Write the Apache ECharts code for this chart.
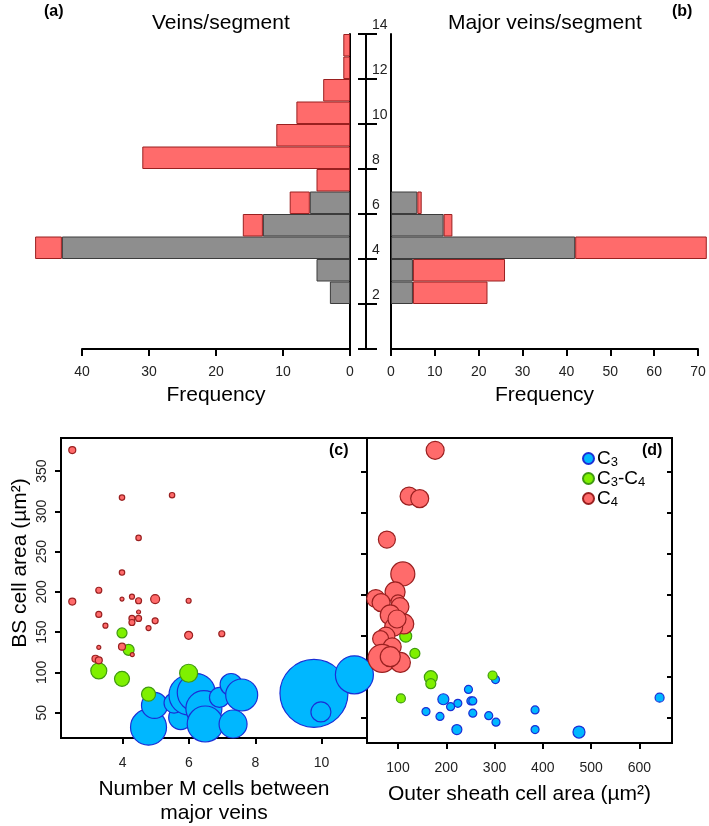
<!DOCTYPE html>
<html>
<head>
<meta charset="utf-8">
<script src="https://cdn.jsdelivr.net/npm/echarts@6/dist/echarts.min.js"></script>
<style>html,body{margin:0;padding:0;background:#fff}#c{width:709px;height:826px}</style>
</head>
<body>
<div id="c"></div>
<script>
// ---------- DATA ----------
// histogram bins (lower edge of each 1-unit bin)
const bins = ['0','1','2','3','4','5','6','7','8','9','10','11','12','13'];
// (a) Veins/segment frequencies
const veinsGray = [0,0,3,5,43,13,6,0,0,0,0,0,0,0];
const veinsRed  = [0,0,0,0,4,3,3,5,31,11,8,4,1,1];
// (b) Major veins/segment frequencies
const majorGray = [0,0,5,5,42,12,6,0,0,0,0,0,0,0];
const majorRed  = [0,0,17,21,30,2,1,0,0,0,0,0,0,0];
// tick values
const bsTicks = [50,100,150,200,250,300,350];
const mTicks = [4,6,8,10];
const osTicks = [100,200,300,400,500,600];

// (c) [number M cells, BS cell area, bubble weight]
const cC3 = [[4.78,32,18],[4.96,59,13],[5.75,44,12],[5.55,62,10],[6.0,72,20],[6.22,75,19],
  [6.45,55,18],[6.49,36,18],[6.92,69,10],[7.27,85,11],[7.59,72,16],[7.33,36,14],
  [9.77,74,34],[9.98,51,10],[10.99,97,19]];
const cC3C4 = [[3.98,149,5],[4.18,128,5.5],[3.28,102,8],[3.98,92,7.5],[5.99,99,9],[4.78,73,7]];
const cC4 = [[2.48,376,3.5],[3.98,317,2.7],[5.49,320,2.7],[4.48,267,2.7],[3.98,224,2.7],
  [3.28,202,3],[2.48,188,3.5],[3.98,191,2],[4.28,194,2.5],[4.48,189,3],[4.98,191,4.5],
  [5.99,189,2.5],[3.28,172,3],[4.48,175,2],[3.48,158,2.5],[4.28,167,3],[4.28,162,3],
  [4.48,167,3],[4.98,164,3],[4.78,155,2.5],[5.99,146,4],[6.99,148,3],[3.28,131,2],
  [3.98,132,3.5],[3.18,117,3.5],[3.28,115,3.5],[4.29,122,2]];
// (d) [outer sheath cell area, BS cell area, bubble weight]
const dC3 = [[246,84,4],[194,72,5.5],[224,67,4],[209,63,4],[251,70,4],[255,70,4],[158,57,4],
  [187,51,4],[255,55,4],[288,52,4],[303,44,4],[222,35,5],[302,96,4],[384,59,4],[384,35,4],
  [475,32,6],[642,74,4.5]];
const dC3C4 = [[116,149,6],[135,128,5],[168,99,6.5],[168,91,5],[296,101,4.5],[106,73,4.5]];
const dC4 = [[177,376,9],[123,320,9],[145,317,9],[77,267,8.5],[110,225,12],[94,203,10],
  [54,195,9],[65,190,9],[100,191,7],[104,185,9],[84,175,10],[112,164,10],[91,160,9],
  [75,149,9],[64,146,8],[88,136,9],[98,170,9],[67,122,14],[105,117,10],[84,124,10]];

const groupNames = ['C3','C3-C4','C4'];

// ---------- STYLE ----------
const FONT = '"Liberation Sans", Arial, sans-serif';
const RED = '#FF6B6B', RED_B = '#9a2020';
const GRAY = '#8E8E8E', GRAY_B = '#3c3c3c';
const BLUE = '#00B7FF', BLUE_B = '#1a2fd6';
const GREEN = '#7FF000', GREEN_B = '#3f9a10';
const lineS = {color:'#000', width:2};
const nz = a => a.map(v => v === 0 ? '-' : v);
const sz = d => d[2] * 2;

const chart = echarts.init(document.getElementById('c'));

const option = {
  animation:false,
  textStyle:{fontFamily:FONT},
  grid:[
    {left:82, top:34, width:268, height:315},   // (a)
    {left:391, top:34, width:307, height:315},  // (b)
    {left:366, top:34, width:1, height:315},    // central axis
    {left:61, top:438, width:306, height:305, show:true, borderColor:'#000', borderWidth:2}, // (c)
    {left:367, top:438, width:305, height:305, show:true, borderColor:'#000', borderWidth:2}  // (d)
  ],
  xAxis:[
    {gridIndex:0, type:'value', inverse:true, min:0, max:40, interval:10, position:'bottom',
     axisLine:{show:true, lineStyle:lineS}, axisTick:{show:true, length:7, lineStyle:lineS},
     axisLabel:{fontSize:14, color:'#222', margin:16}, splitLine:{show:false},
     name:'Frequency', nameLocation:'middle', nameGap:36, nameTextStyle:{fontSize:21, color:'#000'}},
    {gridIndex:1, type:'value', min:0, max:70, interval:10, position:'bottom',
     axisLine:{show:true, lineStyle:lineS}, axisTick:{show:true, length:7, lineStyle:lineS},
     axisLabel:{fontSize:14, color:'#222', margin:16}, splitLine:{show:false},
     name:'Frequency', nameLocation:'middle', nameGap:36, nameTextStyle:{fontSize:21, color:'#000'}},
    {gridIndex:2, type:'value', show:false, min:0, max:1},
    {gridIndex:3, type:'value', min:2.14, max:11.37,
     axisLine:{show:true, lineStyle:lineS},
     axisTick:{show:true, length:6, lineStyle:lineS, customValues:mTicks},
     axisLabel:{fontSize:14, color:'#222', margin:18, customValues:mTicks},
     splitLine:{show:false},
     name:'Number M cells between\nmajor veins', nameLocation:'middle', nameGap:39,
     nameTextStyle:{fontSize:21, color:'#000', lineHeight:24}},
    {gridIndex:4, type:'value', min:35.8, max:667.7,
     axisLine:{show:true, lineStyle:lineS},
     axisTick:{show:true, length:6, lineStyle:lineS, customValues:osTicks},
     axisLabel:{fontSize:14, color:'#222', margin:18, customValues:osTicks},
     splitLine:{show:false},
     name:'Outer sheath cell area (µm²)', nameLocation:'middle', nameGap:41,
     nameTextStyle:{fontSize:21, color:'#000'}}
  ],
  yAxis:[
    {gridIndex:0, type:'category', data:bins, position:'right', boundaryGap:true,
     axisLine:{show:true, lineStyle:lineS}, axisTick:{show:false}, axisLabel:{show:false}},
    {gridIndex:1, type:'category', data:bins, position:'left', boundaryGap:true,
     axisLine:{show:true, lineStyle:lineS}, axisTick:{show:false}, axisLabel:{show:false}},
    {gridIndex:2, type:'value', min:0, max:14, interval:2, position:'left',
     axisLine:{show:true, lineStyle:lineS}, axisTick:{show:true, inside:false, length:8, lineStyle:lineS},
     axisLabel:{show:false}, splitLine:{show:false}},
    {gridIndex:2, type:'value', min:0, max:14, interval:2, position:'left',
     axisLine:{show:false}, axisTick:{show:true, inside:true, length:11, lineStyle:lineS},
     axisLabel:{show:true, inside:true, margin:6, fontSize:14, color:'#222', verticalAlign:'bottom',
       padding:[0,0,2,0], formatter:v => (v === 0 ? '' : String(v))},
     splitLine:{show:false}},
    {gridIndex:3, type:'value', min:18.6, max:391,
     axisLine:{show:true, lineStyle:lineS},
     axisTick:{show:true, length:6, lineStyle:lineS, customValues:bsTicks},
     axisLabel:{fontSize:14, color:'#222', rotate:90, margin:12, customValues:bsTicks},
     splitLine:{show:false},
     name:'BS cell area (µm²)', nameLocation:'middle', nameGap:30, nameRotate:90,
     nameTextStyle:{fontSize:21, color:'#000', padding:[0,0,0,50]}},
    {gridIndex:4, type:'value', min:18.6, max:391,
     axisLine:{show:true, lineStyle:lineS},
     axisTick:{show:true, length:6, lineStyle:lineS, customValues:bsTicks},
     axisLabel:{show:false}, splitLine:{show:false}},
    {gridIndex:4, type:'value', min:18.6, max:391,
     axisLine:{show:false},
     axisTick:{show:true, inside:true, length:5, lineStyle:lineS, customValues:bsTicks},
     axisLabel:{show:false}, splitLine:{show:false}}
  ],
  legend:{
    data:groupNames, orient:'vertical', left:577, top:444, icon:'circle',
    itemWidth:11, itemHeight:11, itemGap:0,
    formatter:n => ({'C3':'{n|C}{s|3}','C3-C4':'{n|C}{s|3}{n|-C}{s|4}','C4':'{n|C}{s|4}'}[n]),
    textStyle:{color:'#000', padding:[0,0,0,-2], rich:{
      n:{fontSize:19, lineHeight:21, verticalAlign:'middle', fontFamily:FONT, color:'#000'},
      s:{fontSize:13, lineHeight:12, verticalAlign:'bottom', fontFamily:FONT, color:'#000'}}}
  },
  graphic:[
    {type:'text', left:44, top:4, style:{text:'(a)', font:'bold 16px '+FONT, fill:'#000'}},
    {type:'text', left:672, top:4, style:{text:'(b)', font:'bold 16px '+FONT, fill:'#000'}},
    {type:'text', left:152, top:13, style:{text:'Veins/segment', font:'21px '+FONT, fill:'#000'}},
    {type:'text', left:448, top:13, style:{text:'Major veins/segment', font:'21px '+FONT, fill:'#000'}},
    {type:'text', left:329, top:443, style:{text:'(c)', font:'bold 16px '+FONT, fill:'#000'}},
    {type:'text', left:642, top:443, style:{text:'(d)', font:'bold 16px '+FONT, fill:'#000'}}
  ],
  series:[
    {type:'bar', xAxisIndex:0, yAxisIndex:0, stack:'a', data:nz(veinsGray), barWidth:'100%', clip:false,
     itemStyle:{color:GRAY, borderColor:GRAY_B, borderWidth:1}},
    {type:'bar', xAxisIndex:0, yAxisIndex:0, stack:'a', data:nz(veinsRed), barWidth:'100%', clip:false,
     itemStyle:{color:RED, borderColor:RED_B, borderWidth:1}},
    {type:'bar', xAxisIndex:1, yAxisIndex:1, stack:'b', data:nz(majorGray), barWidth:'100%', clip:false,
     itemStyle:{color:GRAY, borderColor:GRAY_B, borderWidth:1}},
    {type:'bar', xAxisIndex:1, yAxisIndex:1, stack:'b', data:nz(majorRed), barWidth:'100%', clip:false,
     itemStyle:{color:RED, borderColor:RED_B, borderWidth:1}},

    {name:'C3', type:'scatter', xAxisIndex:3, yAxisIndex:4, data:cC3, symbolSize:sz, clip:false,
     itemStyle:{color:BLUE, borderColor:BLUE_B, borderWidth:1.2, opacity:1}},
    {name:'C3-C4', type:'scatter', xAxisIndex:3, yAxisIndex:4, data:cC3C4, symbolSize:sz, clip:false,
     itemStyle:{color:GREEN, borderColor:GREEN_B, borderWidth:1.2, opacity:1}},
    {name:'C4', type:'scatter', xAxisIndex:3, yAxisIndex:4, data:cC4, symbolSize:sz, clip:false,
     itemStyle:{color:RED, borderColor:RED_B, borderWidth:1.2, opacity:1}},

    {name:'C3', type:'scatter', xAxisIndex:4, yAxisIndex:5, data:dC3, symbolSize:sz, clip:false,
     itemStyle:{color:BLUE, borderColor:BLUE_B, borderWidth:1.2, opacity:1}},
    {name:'C3-C4', type:'scatter', xAxisIndex:4, yAxisIndex:5, data:dC3C4, symbolSize:sz, clip:false,
     itemStyle:{color:GREEN, borderColor:GREEN_B, borderWidth:1.2, opacity:1}},
    {name:'C4', type:'scatter', xAxisIndex:4, yAxisIndex:5, data:dC4, symbolSize:sz, clip:false,
     itemStyle:{color:RED, borderColor:RED_B, borderWidth:1.2, opacity:1}}
  ]
};
chart.setOption(option);
</script>
</body>
</html>
